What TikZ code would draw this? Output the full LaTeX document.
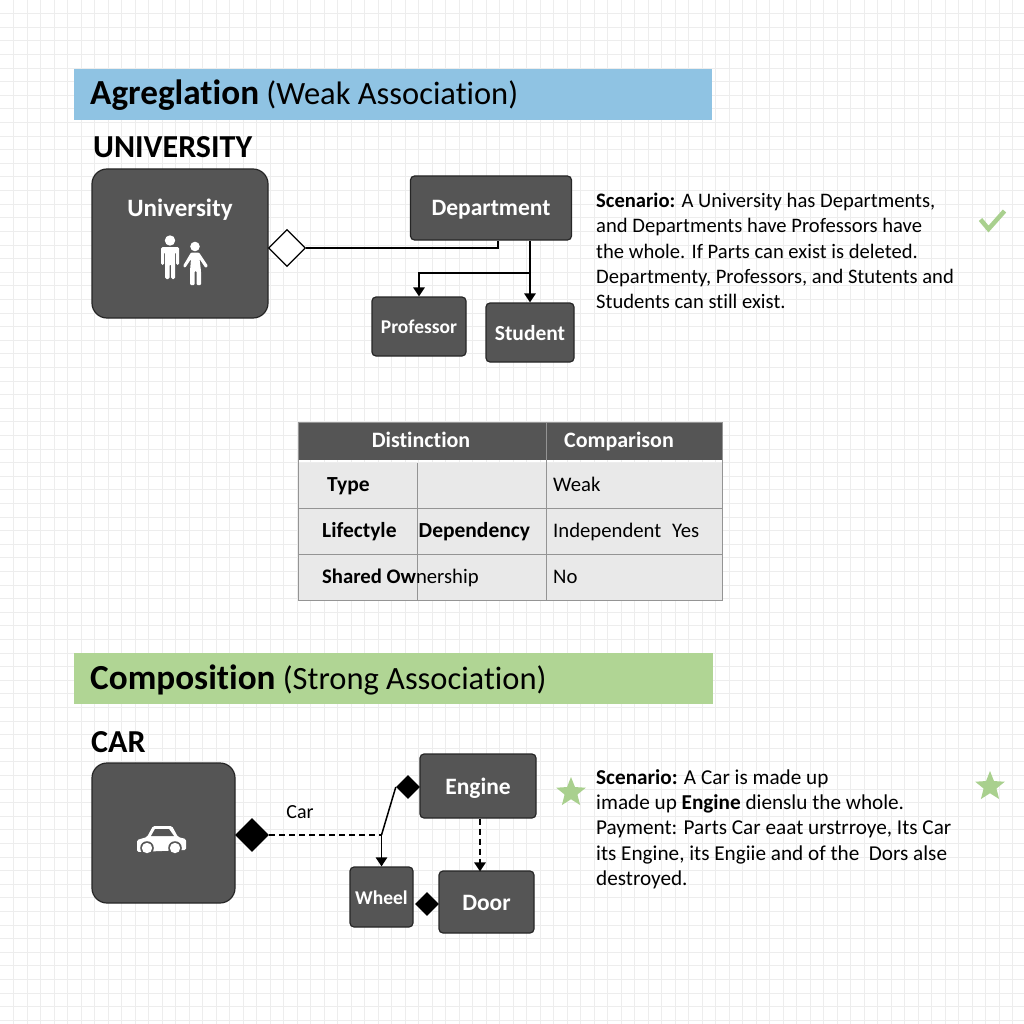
\documentclass[tikz,border=0pt]{standalone}
\usepackage{fontspec}
\setmainfont[RawFeature={-liga}]{Carlito}
\usetikzlibrary{arrows.meta,positioning,shapes.geometric}
\definecolor{boxgray}{HTML}{555555}
\definecolor{barblue}{HTML}{8FC3E3}
\definecolor{bargreen}{HTML}{B0D594}
\definecolor{markgreen}{HTML}{A9D08E}
\definecolor{rowgray}{HTML}{E9E9E9}
\newcommand{\titlepart}[1]{{\fontsize{35.2}{38}\selectfont\bfseries #1}}
\tikzset{
  gridline/.style={black!7, line width=0.6pt},
  heading/.style={anchor=west, inner sep=0pt, text height=24pt, text depth=4pt, font=\fontsize{32.5}{38}\selectfont},
  subject/.style={anchor=west, inner sep=0pt, text height=22pt, text depth=0pt, font=\fontsize{32}{36}\selectfont\bfseries},
  unit/.style={draw=black!85, fill=boxgray, line width=1.2pt, rounded corners=4pt, text=white, inner sep=0pt, text height=16pt, text depth=0pt, font=\fontsize{23.5}{28}\selectfont\bfseries},
  smallunit/.style={unit, text height=14pt, font=\fontsize{19.5}{24}\selectfont\bfseries},
  bigunit/.style={unit, rounded corners=15pt},
  hollow/.style={diamond, draw=black, fill=white, line width=1.2pt, inner sep=0pt},
  solid diamond/.style={diamond, fill=black, inner sep=0pt},
  link/.style={black, line width=1.5pt},
  arrow/.style={link, -{Triangle[length=9pt,width=11.5pt]}},
  scenario/.style={anchor=north west, inner sep=0pt, align=left, font=\fontsize{20.6}{25.2}\selectfont},
  rowtext/.style={anchor=west, inner sep=0pt, text height=14.5pt, text depth=4pt, font=\fontsize{20.7}{24}\selectfont},
  rowhead/.style={rowtext, font=\fontsize{21.5}{24}\selectfont\bfseries},
  headtext/.style={inner sep=0pt, text=white, text height=15pt, text depth=4pt, font=\fontsize{22}{26}\selectfont\bfseries},
  rule/.style={black!42, line width=0.9pt},
  prize/.style={star, star points=5, star point ratio=2.3, fill=markgreen, inner sep=0pt, minimum size=31pt}
}
\begin{document}
\begin{tikzpicture}[x=1pt,y=-1pt]
  \useasboundingbox (0,0) rectangle (1024,1024);
  \fill[white] (0,0) rectangle (1024,1024);
  \foreach \g in {1,...,75}{\draw[gridline] (\g*13.5,0)--(\g*13.5,1024); \draw[gridline] (0,\g*13.6)--(1024,\g*13.6);}

  % aggregation
  \fill[barblue] (74,69) rectangle (712,120);
  \node[heading] (aggtitle) at (90,95) {\titlepart{Agreglation} (Weak Association)};
  \node[subject] (unititle) at (93,147) {UNIVERSITY};
  \node[bigunit, minimum width=176pt, minimum height=149pt] (uni) at (180,243.5) {};
  \node[text=white, inner sep=0pt, text height=18pt, text depth=0pt, font=\fontsize{25}{29}\selectfont\bfseries] (unilabel) at (180,208) {University};
  \node[unit, minimum width=161pt, minimum height=64pt] (dept) at (491,208) {Department};
  \node[smallunit, minimum width=94pt, minimum height=59pt] (prof) at (419,326.5) {Professor};
  \node[unit, minimum width=88pt, minimum height=59pt, text height=15pt, font=\fontsize{21.5}{26}\selectfont\bfseries] (stud) at (530,332.5) {Student};
  \node[hollow, minimum width=37pt, minimum height=37pt] (aggr) at (287,248) {};
  \coordinate (split) at (530,273);
  \draw[link] (aggr.east) -| ([xshift=7pt]dept.south);
  \draw[arrow] (stud.north |- dept.south) -- (stud.north);
  \draw[arrow] (split) -| (prof.north);

  % people
  \fill[white] (170,240.5) circle (5.2) (195,246.5) circle (4.8);
  \fill[white, rounded corners=1.5pt] (161,247) -- (179,247) -- (179,265) -- (176,265) -- (176,252) -- (175,252) -- (175,279) -- (171,279) -- (171,264) -- (169.5,264) -- (169.5,279) -- (165,279) -- (165,252) -- (164,252) -- (164,265) -- (161,265) -- cycle;
  \fill[white, rounded corners=1pt] (191,252.5) -- (199,252.5) -- (208,266) -- (205.5,268) -- (199.5,259) -- (201,271) -- (201,285) -- (196.5,285) -- (196.5,271) -- (194.5,271) -- (194.5,285) -- (190,285) -- (190,271) -- (191,259) -- (185,268) -- (183,266) -- cycle;

  \node[scenario] (unitext) at (596,193) {\textbf{Scenario:} A University has Departments,\\and Departments have Professors have\\the whole. If Parts can exist is deleted.\\Departmenty, Professors, and Stutents and\\Students can still exist.};
  \draw[markgreen, line width=4.5pt] (980.5,219.5) -- (988.5,229) -- (1004.5,211);

  % table
  \fill[rowgray] (298,463) rectangle (722,600);
  \fill[boxgray] (298,422) rectangle (722,460);
  \draw[rule] (298,422) rectangle (722,600);
  \foreach \y in {508,554}{\draw[rule] (298,\y)--(722,\y);}
  \draw[rule] (417,463)--(417,600);
  \draw[rule] (546,422)--(546,600);
  \node[headtext] (head1) at (421,441.5) {Distinction};
  \node[headtext] (head2) at (619,441.5) {Comparison};
  \node[rowhead] (type) at (327,486) {Type};
  \node[rowtext] (weak) at (553,486) {Weak};
  \node[rowhead] (life) at (322,532.5) {Lifectyle};
  \node[rowhead] (dep) at (418.5,532.5) {Dependency};
  \node[rowtext] (indep) at (553,532.5) {Independent};
  \node[rowtext] (yes) at (672,532.5) {Yes};
  \node[rowtext] (shared) at (322,578.5) {\textbf{Shared Ow}nership};
  \node[rowtext] (no) at (553,578.5) {No};

  % composition
  \fill[bargreen] (74,653) rectangle (713,704);
  \node[heading] (comptitle) at (90,679) {\titlepart{Composition} (Strong Association)};
  \node[subject] (cartitle) at (91,741) {CAR};
  \node[bigunit, minimum width=143pt, minimum height=140pt] (car) at (163.5,833) {};
  \node[unit, minimum width=116pt, minimum height=64pt] (engine) at (478,786) {Engine};
  \node[smallunit, minimum width=63pt, minimum height=60pt] (wheel) at (381.5,897) {Wheel};
  \node[unit, minimum width=95pt, minimum height=62pt] (door) at (486.5,902) {Door};
  \node[solid diamond, minimum width=34pt, minimum height=34pt] (whole) at (252,835) {};
  \node[solid diamond, minimum width=24pt, minimum height=24pt] (enginejoin) at (408,787) {};
  \node[solid diamond, minimum width=24pt, minimum height=24pt] (doorjoin) at (427,904) {};
  \node[inner sep=0pt, font=\fontsize{20}{24}\selectfont] (carlabel) at (300,812) {Car};
  \coordinate (fork) at (381.5,835);
  \draw[link, dash pattern=on 6pt off 4pt] (whole.east) -- (fork);
  \draw[link] (fork) -- (enginejoin.west);
  \draw[arrow] (fork) -- (wheel.north);
  \draw[arrow, dash pattern=on 6pt off 4pt] ([xshift=2pt]engine.south) -- ([xshift=-6.5pt,yshift=-1pt]door.north);

  % car
  \fill[white, rounded corners=1.5pt] (137,852) -- (137,840) -- (147,837) -- (153,826) -- (172,826) -- (178,837) -- (186,839) -- (186,850) -- (137,852) -- cycle;
  \fill[boxgray] (151,836) -- (155,829) -- (169,829) -- (174,836) -- cycle;
  \foreach \x in {147,175}{\fill[boxgray] (\x,848) circle (6.8); \fill[white] (\x,848) circle (5.2);}

  \node[scenario, font=\fontsize{21.2}{25.4}\selectfont] (cartext) at (596,769) {\textbf{Scenario:} A Car is made up\\imade up \textbf{Engine} dienslu the whole.\\Payment: Parts Car eaat urstrroye, Its Car\\its Engine, its Engiie and of the\ \ Dors alse\\destroyed.};
  \node[prize] (star1) at (571,792.5) {};
  \node[prize] (star2) at (990,786.5) {};
\end{tikzpicture}
\end{document}
